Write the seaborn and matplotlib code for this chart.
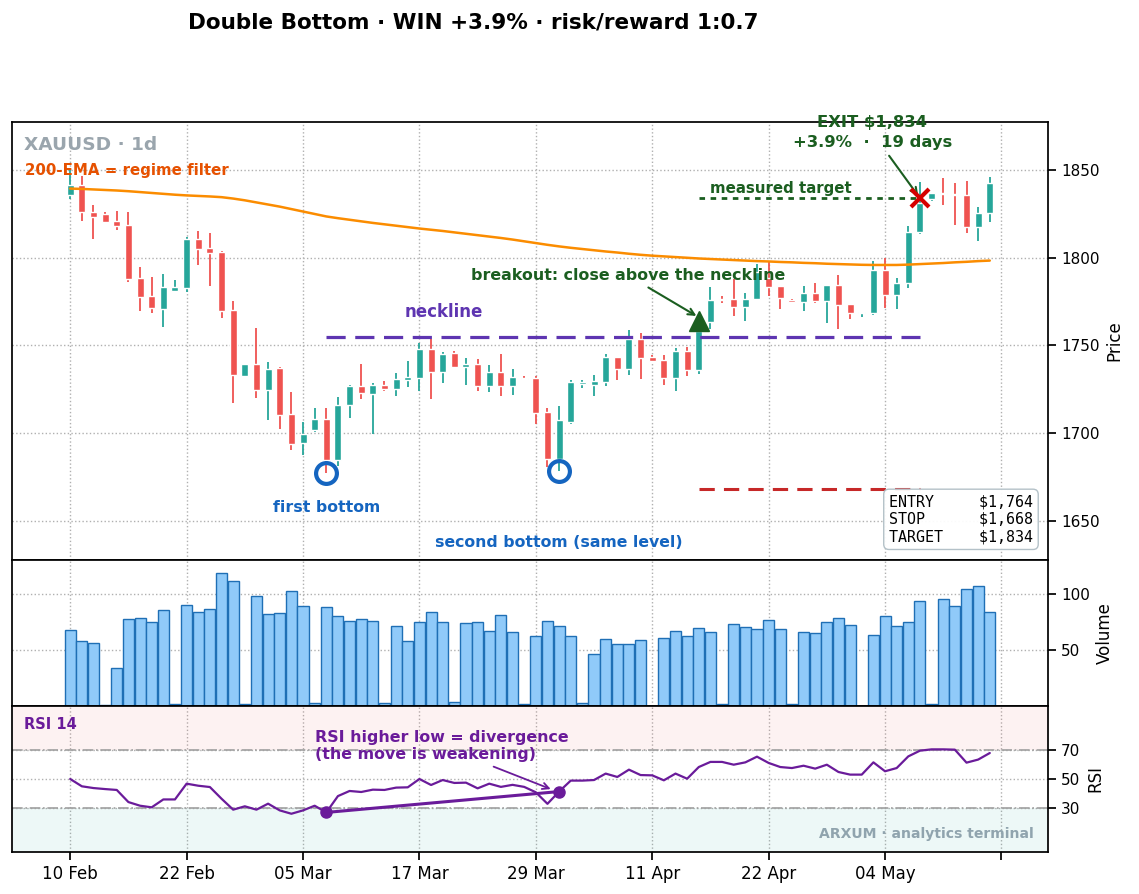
import numpy as np
import pandas as pd
import seaborn as sns
import matplotlib.pyplot as plt

# XAUUSD daily candles
opens = [1836.1, 1841.8, 1826.2, 1824.9, 1820.9, 1818.6, 1788.2, 1778.0, 1770.7, 1781.2,
         1782.9, 1810.6, 1805.3, 1803.2, 1770.2, 1732.7, 1739.4, 1724.5, 1736.9, 1710.8,
         1694.0, 1701.5, 1708.1, 1684.5, 1715.7, 1726.8, 1722.5, 1727.4, 1725.1, 1730.2,
         1731.5, 1748.1, 1734.9, 1745.8, 1737.7, 1739.2, 1726.8, 1734.9, 1726.8, 1731.5,
         1731.4, 1711.8, 1685.2, 1706.3, 1727.9, 1727.4, 1729.1, 1743.3, 1736.7, 1753.8,
         1743.3, 1741.4, 1731.4, 1746.6, 1735.7, 1763.3, 1776.6, 1776.6, 1771.9, 1776.6,
         1788.6, 1783.8, 1776.0, 1774.7, 1780.0, 1775.3, 1784.2, 1773.4, 1768.6, 1768.6,
         1792.8, 1778.7, 1785.7, 1814.8, 1833.8, 1836.9, 1836.5, 1836.1, 1817.5, 1825.3]
highs = [1851.0, 1846.8, 1830.0, 1825.9, 1826.6, 1826.2, 1794.9, 1789.2, 1791.0, 1787.6,
         1812.0, 1815.2, 1813.9, 1804.0, 1775.5, 1739.6, 1759.7, 1740.3, 1737.9, 1723.2,
         1706.0, 1714.2, 1714.2, 1720.4, 1727.4, 1739.6, 1728.7, 1729.8, 1734.3, 1740.9,
         1751.3, 1753.8, 1746.2, 1746.8, 1743.0, 1742.1, 1738.7, 1745.3, 1736.4, 1732.5,
         1732.3, 1714.3, 1715.2, 1730.4, 1730.0, 1733.3, 1745.2, 1743.3, 1758.6, 1757.0,
         1744.7, 1744.7, 1748.7, 1749.0, 1758.2, 1783.3, 1778.0, 1788.0, 1779.8, 1796.6,
         1798.1, 1783.8, 1776.2, 1783.8, 1785.7, 1784.2, 1790.1, 1773.4, 1769.2, 1798.1,
         1799.6, 1788.6, 1818.0, 1843.2, 1836.9, 1845.6, 1842.4, 1843.7, 1828.9, 1846.2]
lows = [1833.8, 1820.9, 1810.6, 1820.2, 1815.8, 1786.3, 1769.6, 1768.3, 1760.3, 1780.6,
        1780.6, 1795.8, 1783.8, 1765.4, 1716.9, 1732.5, 1719.8, 1707.4, 1702.3, 1690.3,
        1687.6, 1700.5, 1677.4, 1681.0, 1708.5, 1719.4, 1699.6, 1724.2, 1721.3, 1726.0,
        1724.0, 1719.2, 1728.3, 1737.5, 1727.4, 1724.2, 1723.6, 1721.3, 1721.7, 1730.2,
        1705.3, 1680.6, 1678.3, 1705.3, 1725.5, 1720.9, 1726.8, 1730.4, 1732.9, 1731.0,
        1741.0, 1727.2, 1724.0, 1732.5, 1733.8, 1759.5, 1774.1, 1766.5, 1763.7, 1776.0,
        1778.1, 1770.5, 1774.3, 1769.6, 1774.0, 1762.9, 1759.1, 1764.8, 1766.3, 1767.3,
        1771.5, 1770.5, 1782.9, 1813.3, 1832.3, 1830.4, 1818.6, 1814.3, 1809.5, 1820.3]
closes = [1841.8, 1826.2, 1823.4, 1820.5, 1818.3, 1787.8, 1777.8, 1771.5, 1783.1, 1783.3,
          1810.6, 1804.9, 1802.9, 1769.6, 1733.1, 1739.4, 1724.5, 1736.5, 1710.3, 1693.9,
          1699.5, 1708.1, 1684.5, 1715.8, 1726.8, 1722.6, 1727.4, 1725.1, 1730.8, 1731.9,
          1748.1, 1734.9, 1744.9, 1737.7, 1739.2, 1726.8, 1734.9, 1726.8, 1731.7, 1730.8,
          1711.4, 1685.2, 1707.2, 1728.9, 1728.9, 1729.5, 1743.3, 1736.7, 1753.8, 1743.0,
          1741.1, 1731.4, 1746.6, 1735.7, 1758.2, 1775.7, 1776.0, 1771.9, 1776.6, 1791.8,
          1783.3, 1777.2, 1774.7, 1780.0, 1775.3, 1784.2, 1773.0, 1768.6, 1769.2, 1792.8,
          1778.7, 1785.7, 1814.8, 1831.0, 1836.9, 1836.3, 1835.9, 1817.5, 1825.3, 1842.8]
volume = [67.6, 57.7, 56.0, 1.0, 33.6, 77.4, 78.3, 74.7, 85.4, 1.5,
          89.9, 83.6, 86.3, 118.5, 111.3, 1.5, 97.9, 81.8, 82.7, 102.4,
          89.0, 2.4, 88.1, 80.0, 75.6, 77.4, 75.6, 2.4, 71.1, 57.7,
          74.7, 83.6, 74.7, 3.3, 73.8, 74.7, 66.7, 81.0, 65.8, 1.5,
          62.2, 75.6, 71.1, 62.2, 2.4, 46.1, 59.5, 55.1, 55.1, 58.6,
          0.3, 60.4, 66.7, 62.2, 69.3, 65.8, 1.5, 72.9, 70.2, 68.5,
          76.5, 68.5, 1.5, 65.8, 64.9, 74.7, 78.3, 72.0, 0.3, 63.1,
          80.0, 71.1, 74.7, 93.5, 1.5, 95.2, 89.0, 104.2, 106.8, 83.6]
ema200 = [1839.5, 1839.3, 1839.0, 1838.7, 1838.4, 1838.0, 1837.5, 1837.0, 1836.5, 1836.0,
          1835.6, 1835.3, 1835.0, 1834.6, 1833.8, 1832.8, 1831.6, 1830.4, 1829.2, 1827.8,
          1826.4, 1825.0, 1823.6, 1822.6, 1821.7, 1820.8, 1819.9, 1819.1, 1818.3, 1817.5,
          1816.7, 1816.0, 1815.3, 1814.5, 1813.7, 1812.9, 1812.1, 1811.3, 1810.4, 1809.4,
          1808.4, 1807.4, 1806.5, 1805.7, 1805.0, 1804.3, 1803.6, 1803.0, 1802.3, 1801.7,
          1801.2, 1800.8, 1800.4, 1800.0, 1799.6, 1799.3, 1799.0, 1798.7, 1798.4, 1798.1,
          1797.9, 1797.6, 1797.4, 1797.1, 1796.9, 1796.6, 1796.4, 1796.2, 1796.0, 1795.9,
          1795.9, 1795.9, 1796.1, 1796.4, 1796.7, 1797.0, 1797.4, 1797.7, 1798.1, 1798.4]
rsi14 = [50.0, 45.0, 43.8, 43.1, 42.5, 34.2, 31.7, 30.6, 36.0, 36.0,
         46.8, 45.4, 44.5, 36.5, 29.0, 31.3, 29.0, 33.1, 28.5, 26.2,
         28.5, 31.7, 27.1, 38.3, 41.8, 41.1, 42.7, 42.5, 44.1, 44.3,
         50.0, 45.9, 49.3, 47.3, 47.5, 43.6, 46.8, 44.6, 46.0, 44.6,
         40.9, 33.0, 41.4, 48.9, 48.9, 49.3, 53.7, 51.4, 56.4, 52.7,
         52.5, 49.1, 53.7, 50.2, 58.2, 61.7, 61.7, 59.8, 61.4, 65.3,
         61.0, 58.2, 57.5, 59.1, 57.1, 59.8, 54.8, 53.0, 53.0, 61.4,
         55.3, 57.5, 65.5, 69.4, 70.3, 70.3, 70.1, 61.2, 63.3, 67.8]

tick_pos = [0, 10, 20, 30, 40, 50, 60, 70, 80]
tick_labels = ["10 Feb", "22 Feb", "05 Mar", "17 Mar", "29 Mar", "11 Apr", "22 Apr", "04 May", ""]

# trade setup
bottom1, bottom2 = 22, 42
neckline = 1755
entry_i, exit_i = 54, 73
entry, stop, target = 1764, 1668, 1834

df = pd.DataFrame({"open": opens, "high": highs, "low": lows, "close": closes,
                   "volume": volume, "ema": ema200, "rsi": rsi14})
df["i"] = np.arange(len(df))

UP, DOWN = "#26a69a", "#ef5350"
PURPLE = "#6a1b9a"
GREEN = "#1b5e20"
BLUE = "#1565c0"

sns.set_theme(style="ticks", context="notebook")
plt.rcParams["font.family"] = ["DejaVu Sans"]
plt.rcParams.update({"text.color": "black", "axes.labelcolor": "black",
                     "xtick.color": "black", "ytick.color": "black"})

fig, (ax, axv, axr) = plt.subplots(3, 1, sharex=True, figsize=(11.39, 8.94), dpi=100,
                                   gridspec_kw=dict(height_ratios=[3, 1, 1], hspace=0))
fig.subplots_adjust(left=12 / 1139, right=1048 / 1139, top=1 - 122 / 894, bottom=1 - 852 / 894)

for a in (ax, axv, axr):
    a.grid(True, ls=":", color="#b0b0b0", lw=1)
    a.yaxis.tick_right()
    a.yaxis.set_label_position("right")
    for s in a.spines.values():
        s.set_color("black")
        s.set_visible(True)

# candles
col = np.where(df["close"] >= df["open"], UP, DOWN)
ax.vlines(df["i"], df["low"], df["high"], color=col, lw=1.3, zorder=2)
body_h = (df["close"] - df["open"]).abs().clip(lower=0.5)
ax.bar(df["i"], body_h, bottom=np.minimum(df["open"], df["close"]), width=0.6,
       color=col, zorder=3)

sns.lineplot(x=df["i"], y=df["ema"], ax=ax, color="#fb8c00", lw=1.8, zorder=4)

# neckline, stop, target
ax.plot([bottom1, exit_i], [neckline, neckline], color="#5e35b1", lw=2.3, dashes=(6, 3), zorder=5)
ax.text(32.1, neckline + 9, "neckline", color="#5e35b1",
        fontsize=12, fontweight="bold", ha="center", va="bottom")
ax.plot([entry_i, exit_i], [stop, stop], color="#c62828", lw=2.2, dashes=(5, 3), zorder=5)
ax.plot([entry_i, exit_i], [target, target], color=GREEN, lw=2, dashes=(2, 2), zorder=5)
ax.text(entry_i + 1, target + 1, "measured target", color=GREEN, fontsize=10.8,
        fontweight="bold", ha="left", va="bottom")

# bottoms
for b in (bottom1, bottom2):
    ax.plot(b, lows[b], "o", ms=15, mfc="none", mec=BLUE, mew=3, zorder=6)
ax.text(bottom1, lows[bottom1] - 20, "first bottom", color=BLUE, fontsize=11.3,
        fontweight="bold", ha="center", va="center")
ax.text(bottom2, lows[bottom2] - 41, "second bottom (same level)", color=BLUE,
        fontsize=11.3, fontweight="bold", ha="center", va="center")

# entry / exit
ax.plot(entry_i, entry, "^", ms=14, color=GREEN, zorder=7)
ax.annotate("breakout: close above the neckline", xy=(entry_i, entry + 2),
            xytext=(47.9, 1790), color=GREEN, fontsize=11.4, fontweight="bold",
            ha="center", va="center",
            arrowprops=dict(arrowstyle="->", color=GREEN, lw=1.5))
ax.plot(exit_i, target, "x", ms=13, mew=3, color="#d50000", zorder=7)
ax.annotate(f"EXIT ${target:,}\n+3.9%  ·  19 days", xy=(exit_i, target),
            xytext=(68.9, 1871.5), color=GREEN, fontsize=11.8, fontweight="bold",
            ha="center", va="center", linespacing=1.45, annotation_clip=False,
            arrowprops=dict(arrowstyle="->", color=GREEN, lw=1.5))

ax.text(0.0116, 0.947, "XAUUSD · 1d", transform=ax.transAxes, color="#9aa5ad",
        fontsize=13.3, fontweight="bold", va="center")
ax.text(0.0125, 0.89, "200-EMA = regime filter", transform=ax.transAxes, color="#e65100",
        fontsize=10.8, fontweight="bold", va="center")

box = f"{'ENTRY':<10}${entry:,}\n{'STOP':<10}${stop:,}\n{'TARGET':<10}${target:,}"
ax.text(0.9855, 0.036, box, transform=ax.transAxes, ha="right", va="bottom",
        family="DejaVu Sans Mono", fontsize=10.8, zorder=10,
        bbox=dict(boxstyle="round,pad=0.35", fc="white", ec="#b0bec5", alpha=0.95))

ax.set_ylim(1627.5, 1877.5)
ax.set_yticks([1650, 1700, 1750, 1800, 1850])
ax.set_ylabel("Price")
ax.set_xlabel("")

# volume
axv.bar(df["i"], df["volume"], width=0.95, color="#90caf9", edgecolor="#1f6fb5", lw=1)
axv.set_ylim(0, max(volume) * 1.1)
axv.set_yticks([50, 100])
axv.set_ylabel("Volume")

# RSI
axr.axhspan(70, 100, color="#ef5350", alpha=0.07, lw=0)
axr.axhspan(0, 30, color="#26a69a", alpha=0.08, lw=0)
axr.axhline(70, color="#a0a0a0", lw=1.2, ls="-.")
axr.axhline(30, color="#a0a0a0", lw=1.2, ls="-.")
sns.lineplot(x=df["i"], y=df["rsi"], ax=axr, color=PURPLE, lw=1.6)
axr.plot([bottom1, bottom2], [rsi14[bottom1], rsi14[bottom2]], color=PURPLE, lw=2.2)
axr.plot([bottom1, bottom2], [rsi14[bottom1], rsi14[bottom2]], "o", ms=8, color=PURPLE)
axr.annotate("RSI higher low = divergence\n(the move is weakening)",
             xy=(bottom2 - 0.5, rsi14[bottom2] + 1), xytext=(21, 72.5),
             color=PURPLE, fontsize=11.4, fontweight="bold", ha="left", va="center",
             arrowprops=dict(arrowstyle="->", color=PURPLE, lw=1.3))
axr.text(0.0116, 0.87, "RSI 14", transform=axr.transAxes, color=PURPLE,
         fontsize=10.5, fontweight="bold", va="center")
axr.text(0.9865, 0.123, "ARXUM · analytics terminal", transform=axr.transAxes,
         color="#90a4ae", fontsize=10.1, fontweight="bold", ha="right", va="center")
axr.set_ylim(0, 100)
axr.set_yticks([30, 50, 70])
axr.set_ylabel("RSI")
axr.set_xlabel("")

axr.set_xlim(-5, 84)
axr.set_xticks(tick_pos)
axr.set_xticklabels(tick_labels)
axr.tick_params(axis="x", labelsize=12)

fig.text(473 / 1139, 1 - 22 / 894, "Double Bottom · WIN +3.9% · risk/reward 1:0.7",
         ha="center", va="center", fontsize=15.5, fontweight="bold")

fig.savefig("out.png", dpi=100)
